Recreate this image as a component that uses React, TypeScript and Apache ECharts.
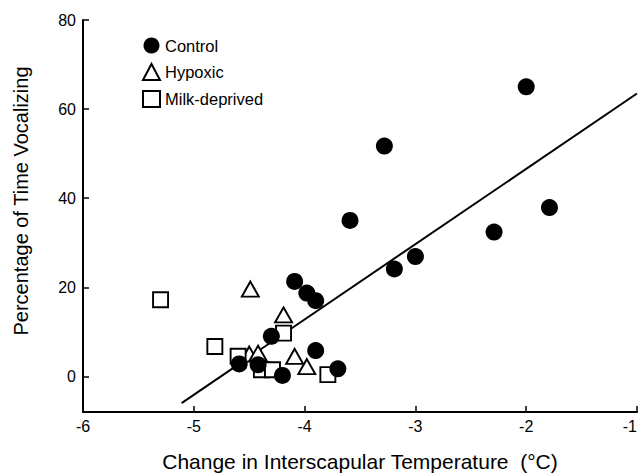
import React, { useEffect, useRef } from "react";
import * as echarts from "echarts";

const controlX = [-2.0, -3.28, -1.79, -3.59, -2.29, -3.0, -3.19, -4.09, -3.98, -3.9, -4.3, -3.9, -4.59, -4.42, -4.2, -3.7];
const controlY = [65.0, 51.7, 37.9, 35.0, 32.4, 26.9, 24.1, 21.3, 18.7, 17.0, 9.0, 5.8, 2.8, 2.6, 0.2, 1.7];

const hypoxicX = [-4.49, -4.19, -4.5, -4.42, -4.09, -3.98];
const hypoxicY = [19.6, 13.8, 5.0, 5.2, 4.5, 2.2];

const milkX = [-5.3, -4.19, -4.81, -4.6, -4.39, -4.29, -3.79];
const milkY = [17.2, 9.7, 6.7, 4.5, 1.5, 1.5, 0.4];

const fitX = [-5.11, -1.0];
const fitY = [-6.0, 63.5];

const xTicks = [-6, -5, -4, -3, -2, -1];
const yTicks = [0, 20, 40, 60, 80];

const FONT = '"Liberation Sans", Arial, Helvetica, sans-serif';

const zip = (xs: number[], ys: number[]) => xs.map((x, i) => [x, ys[i]]);

export default function App() {
  const ref = useRef<HTMLDivElement>(null);
  useEffect(() => {
    if (!ref.current) return;
    const chart = echarts.init(ref.current, null, { renderer: "svg" });
    const hollow = { color: "#fff", borderColor: "#000", borderWidth: 1.9, opacity: 1 };
    chart.setOption({
      animation: false,
      backgroundColor: "#fff",
      textStyle: { fontFamily: FONT, color: "#000" },
      grid: { left: 83, right: 3, top: 20, bottom: 62, containLabel: false, outerBoundsMode: "none" },
      legend: {
        orient: "vertical",
        left: 142,
        top: 37,
        padding: 0,
        itemWidth: 17,
        itemHeight: 16,
        itemGap: 9,
        textStyle: { fontFamily: FONT, fontSize: 16.5, color: "#000" },
        data: [
          { name: "Control", icon: "circle" },
          { name: "Hypoxic", icon: "triangle" },
          { name: "Milk-deprived", icon: "rect" },
        ],
      },
      xAxis: {
        type: "value",
        min: -6,
        max: -1,
        interval: 1,
        name: "Change in Interscapular Temperature  (\u00B0C)",
        nameLocation: "middle",
        nameGap: 39,
        nameTextStyle: { fontFamily: FONT, fontSize: 21, color: "#000" },
        axisLine: { onZero: false, lineStyle: { color: "#000", width: 2 } },
        axisTick: { inside: true, length: 6, lineStyle: { color: "#000", width: 1.5 }, customValues: xTicks },
        axisLabel: {
          fontFamily: FONT,
          fontSize: 16,
          color: "#000",
          margin: 6,
          customValues: xTicks,
          alignMaxLabel: "right",
        },
        splitLine: { show: false },
      },
      yAxis: {
        type: "value",
        min: -8,
        max: 80,
        name: "Percentage of Time Vocalizing",
        nameLocation: "middle",
        nameGap: 52,
        nameTextStyle: { fontFamily: FONT, fontSize: 20, color: "#000", padding: [0, 0, 0, 30] },
        axisLine: { onZero: false, lineStyle: { color: "#000", width: 2 } },
        axisTick: { inside: true, length: 6, lineStyle: { color: "#000", width: 1.5 }, customValues: yTicks },
        axisLabel: { fontFamily: FONT, fontSize: 16, color: "#000", margin: 7, customValues: yTicks },
        splitLine: { show: false },
      },
      series: [
        {
          name: "Fit",
          type: "line",
          data: zip(fitX, fitY),
          showSymbol: false,
          symbol: "none",
          lineStyle: { color: "#000", width: 2 },
          z: 1,
          silent: true,
        },
        {
          name: "Hypoxic",
          type: "scatter",
          symbol: "triangle",
          symbolSize: [17, 15],
          itemStyle: hollow,
          data: zip(hypoxicX, hypoxicY),
          z: 2,
        },
        {
          name: "Milk-deprived",
          type: "scatter",
          symbol: "rect",
          symbolSize: 15,
          itemStyle: hollow,
          data: zip(milkX, milkY),
          z: 3,
        },
        {
          name: "Control",
          type: "scatter",
          symbol: "circle",
          symbolSize: 17,
          itemStyle: { color: "#000", opacity: 1 },
          data: zip(controlX, controlY),
          z: 4,
        },
      ],
    });
    return () => chart.dispose();
  }, []);
  return <div ref={ref} style={{ position: "absolute", left: 0, top: 0, width: 640, height: 474 }} />;
}
